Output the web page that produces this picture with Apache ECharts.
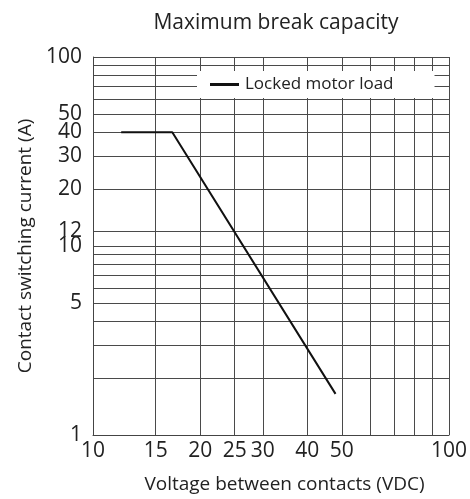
<!DOCTYPE html>
<html>
<head>
<meta charset="utf-8">
<script src="https://cdn.jsdelivr.net/npm/echarts@6/dist/echarts.min.js"></script>
<style>
html,body{margin:0;padding:0;background:#fff;}
#c{width:470px;height:499px;}
</style>
</head>
<body>
<div id="c"></div>
<script>
// Data
const seriesName = 'Locked motor load';
const voltage = [12, 16.7, 48];          // VDC
const current = [40, 40, 1.65];          // A
const xGridValues = [10, 15, 20, 25, 30, 40, 50, 60, 70, 80, 90, 100];
const xLabelValues = [10, 15, 20, 25, 30, 40, 50, 100];
const yGridValues = [1, 2, 3, 4, 5, 6, 7, 8, 9, 10, 12, 20, 30, 40, 50, 60, 70, 80, 90, 100];
const yLabelValues = [1, 5, 10, 12, 20, 30, 40, 50, 100];

const FONT = 'Open Sans';
const TXT = '#222';
const chart = echarts.init(document.getElementById('c'), null, {renderer: 'canvas'});
chart.setOption({
  animation: false,
  backgroundColor: '#fff',
  title: {
    text: 'Maximum break capacity',
    left: 271, textAlign: 'center', top: 8,
    textStyle: {fontFamily: FONT, fontSize: 21, fontWeight: 'normal', color: TXT}
  },
  legend: {
    data: [seriesName],
    left: 197, top: 71,
    padding: [5, 41, 5, 13],
    backgroundColor: '#fff',
    icon: 'rect', itemWidth: 29, itemHeight: 3, itemGap: 0,
    textStyle: {fontFamily: FONT, fontSize: 17, color: TXT, padding: [0,0,0,1]}
  },
  grid: {left: 93, right: 21, top: 57, bottom: 57, containLabel: false, show: false},
  xAxis: {
    type: 'log', logBase: 10, min: 10, max: 100,
    name: 'Voltage between contacts (VDC)', nameLocation: 'middle', nameGap: 40,
    nameTextStyle: {fontFamily: FONT, fontSize: 19, color: TXT, padding: [0, 0, 0, 27]},
    axisLine: {show: true, onZero: false, lineStyle: {color: '#444', width: 1}},
    axisTick: {show: false, customValues: xGridValues},
    axisLabel: {customValues: xLabelValues, fontFamily: FONT, fontSize: 21, color: TXT, margin: 6, showMinLabel: true, showMaxLabel: true},
    splitLine: {show: true, lineStyle: {color: '#4a4a4a', width: 1}}
  },
  yAxis: {
    type: 'log', logBase: 10, min: 1, max: 100,
    name: 'Contact switching current (A)', nameLocation: 'middle', nameGap: 56,
    nameTextStyle: {fontFamily: FONT, fontSize: 19, color: TXT},
    axisLine: {show: true, onZero: false, lineStyle: {color: '#444', width: 1}},
    axisTick: {show: false, customValues: yGridValues},
    axisLabel: {customValues: yLabelValues, fontFamily: FONT, fontSize: 21, color: TXT, margin: 11, showMinLabel: true, showMaxLabel: true},
    splitLine: {show: true, lineStyle: {color: '#4a4a4a', width: 1}}
  },
  series: [{
    name: seriesName,
    type: 'line',
    data: voltage.map((v, i) => [v, current[i]]),
    symbol: 'none',
    lineStyle: {color: '#111', width: 2},
    itemStyle: {color: '#111'},
    z: 3
  }]
});
</script>
</body>
</html>
